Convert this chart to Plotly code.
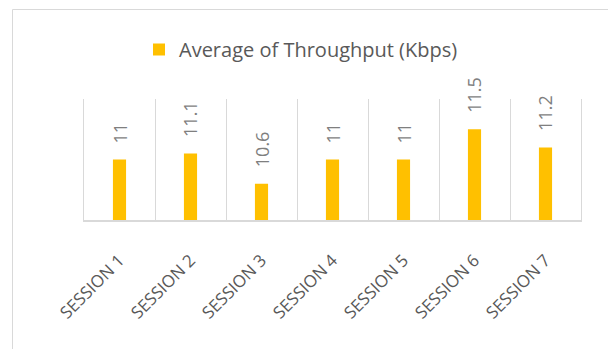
import plotly.graph_objects as go

categories = ["SESSION 1", "SESSION 2", "SESSION 3", "SESSION 4", "SESSION 5", "SESSION 6", "SESSION 7"]
throughput = [11.0, 11.1, 10.6, 11.0, 11.0, 11.5, 11.2]
value_labels = ["11", "11.1", "10.6", "11", "11", "11.5", "11.2"]
series_name = "Average of Throughput (Kbps)"

W, H = 608, 349
L, R, T, B = 84, 27, 99, 129
pw, ph = W - L - R, H - T - B

def px_x(p):
    return (p - L) / pw

def px_y(p):
    return (H - B - p) / ph

fig = go.Figure()
fig.add_trace(go.Bar(
    x=categories, y=throughput, name=series_name,
    marker=dict(color="#FFC000", line=dict(width=0)),
    width=0.185, showlegend=True,
))

for c, v, t in zip(categories, throughput, value_labels):
    fig.add_annotation(
        x=c, y=v, text=t, showarrow=False, textangle=-90,
        xanchor="center", yanchor="bottom", yshift=14,
        font=dict(family="Open Sans", size=18, color="#7F7F7F"),
    )

# chart area border
fig.add_shape(
    type="path", xref="paper", yref="paper",
    path=f"M{px_x(12.5)},{px_y(H + 10)} L{px_x(12.5)},{px_y(9.5)} L{px_x(W + 10)},{px_y(9.5)}",
    line=dict(color="#D9D9D9", width=1),
)

fig.update_layout(
    width=W, height=H,
    margin=dict(l=L, r=R, t=T, b=B, autoexpand=False),
    paper_bgcolor="white", plot_bgcolor="white",
    showlegend=True,
    legend=dict(
        orientation="h", x=px_x(139), xanchor="left", y=px_y(30), yanchor="top",
        font=dict(family="Open Sans", size=20, color="#595959"),
        bgcolor="rgba(0,0,0,0)", itemwidth=30,
    ),
    xaxis=dict(
        type="category", tickson="boundaries", showgrid=True, gridcolor="#D9D9D9", gridwidth=1,
        showline=True, linecolor="#D9D9D9", linewidth=1.5, ticks="", tickangle=-45,
        tickfont=dict(family="Open Sans", size=17, color="#595959"),
        ticklabelstandoff=22,
        range=[-0.5, 6.5], fixedrange=True,
    ),
    yaxis=dict(
        range=[10, 12], showgrid=False, showticklabels=False, zeroline=False,
        showline=True, mirror=True, linecolor="#D9D9D9", linewidth=1, ticks="",
    ),
)

fig.write_html("out.html")
